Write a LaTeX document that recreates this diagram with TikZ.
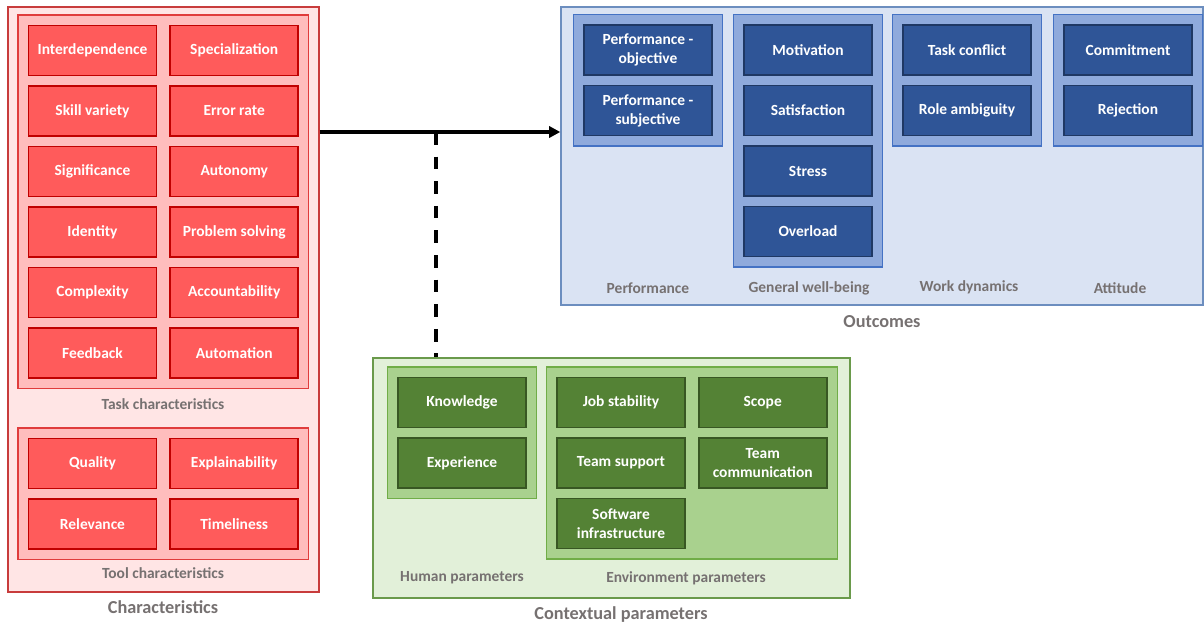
\documentclass[tikz,border=0pt]{standalone}
\usepackage{fontspec}
\setmainfont{Carlito}
\usetikzlibrary{positioning, backgrounds, fit, arrows.meta}

\definecolor{redFill}{HTML}{FF5B5B}
\definecolor{redDraw}{HTML}{C00000}
\definecolor{redGroupFill}{HTML}{FFBDBD}
\definecolor{redGroupDraw}{HTML}{E03C3C}
\definecolor{redOuterFill}{HTML}{FFE5E5}
\definecolor{redOuterDraw}{HTML}{C83C3C}
\definecolor{blueFill}{HTML}{2F5597}
\definecolor{blueDraw}{HTML}{1F3864}
\definecolor{blueGroupFill}{HTML}{8FAADC}
\definecolor{blueGroupDraw}{HTML}{4472C4}
\definecolor{blueOuterFill}{HTML}{DAE3F3}
\definecolor{blueOuterDraw}{HTML}{6C8EBF}
\definecolor{greenFill}{HTML}{548235}
\definecolor{greenDraw}{HTML}{385723}
\definecolor{greenGroupFill}{HTML}{A9D18E}
\definecolor{greenGroupDraw}{HTML}{70AD47}
\definecolor{greenOuterFill}{HTML}{E2F0D9}
\definecolor{greenOuterDraw}{HTML}{6A9A4B}
\definecolor{labelGray}{HTML}{767171}

\begin{document}
\begin{tikzpicture}[
    x=0.025cm, y=-0.025cm,
    node distance=0.22cm and 0.3cm,
    block/.style={rectangle, draw, line width=1.2pt, minimum width=3.2cm, minimum height=1.25cm, text=white, align=center, font=\bfseries\fontsize{11}{13.5}\selectfont},
    redblock/.style={block, fill=redFill, draw=redDraw},
    blueblock/.style={block, fill=blueFill, draw=blueDraw},
    greenblock/.style={block, fill=greenFill, draw=greenDraw},
    group/.style={rectangle, draw, line width=0.8pt, inner sep=0.24cm},
    outer/.style={rectangle, draw, line width=1pt, inner sep=0pt},
    sublabel/.style={text=labelGray, font=\bfseries\fontsize{11}{13}\selectfont},
    mainlabel/.style={text=labelGray, font=\bfseries\fontsize{13}{15}\selectfont},
]
\useasboundingbox (0,0) rectangle (1204,626);

% Nodes: task characteristics
\node [redblock] at (92.5,50.5) (interdep) {Interdependence};
\node [redblock, right=of interdep] (special) {Specialization};
\node [redblock, below=of interdep] (skill) {Skill variety};
\node [redblock, below=of special] (error) {Error rate};
\node [redblock, below=of skill] (signif) {Significance};
\node [redblock, below=of error] (autonomy) {Autonomy};
\node [redblock, below=of signif] (identity) {Identity};
\node [redblock, below=of autonomy] (problem) {Problem solving};
\node [redblock, below=of identity] (complex) {Complexity};
\node [redblock, below=of problem] (account) {Accountability};
\node [redblock, below=of complex] (feedback) {Feedback};
\node [redblock, below=of account] (automation) {Automation};

% Nodes: tool characteristics
\node [redblock] at (92.5,463.5) (quality) {Quality};
\node [redblock, right=of quality] (explain) {Explainability};
\node [redblock, below=of quality] (relevance) {Relevance};
\node [redblock, below=of explain] (timely) {Timeliness};

% Nodes: outcomes
\node [blueblock] at (648,50) (perfobj) {Performance -\\objective};
\node [blueblock, below=of perfobj] (perfsubj) {Performance -\\subjective};
\node [blueblock] at (808,50) (motiv) {Motivation};
\node [blueblock, below=of motiv] (satisf) {Satisfaction};
\node [blueblock, below=of satisf] (stress) {Stress};
\node [blueblock, below=of stress] (overload) {Overload};
\node [blueblock] at (967,50) (taskconf) {Task conflict};
\node [blueblock, below=of taskconf] (roleamb) {Role ambiguity};
\node [blueblock] at (1128,50) (commit) {Commitment};
\node [blueblock, below=of commit] (reject) {Rejection};

% Nodes: contextual parameters
\node [greenblock] at (462,402.5) (knowledge) {Knowledge};
\node [greenblock, below=of knowledge] (experience) {Experience};
\node [greenblock] at (621,402.5) (jobstab) {Job stability};
\node [greenblock, right=of jobstab] (scope) {Scope};
\node [greenblock, below=of jobstab] (teamsup) {Team support};
\node [greenblock, below=of scope] (teamcom) {Team\\communication};
\node [greenblock, below=of teamsup] (software) {Software\\infrastructure};

% Labels
\node [sublabel] at (163,404) (tasklabel) {Task characteristics};
\node [sublabel] at (163,573) (toollabel) {Tool characteristics};
\node [mainlabel] at (163,607) (charlabel) {Characteristics};
\node [sublabel] at (648,288) (perflabel) {Performance};
\node [sublabel] at (809,288) (wblabel) {General well-being};
\node [sublabel] at (969,287) (worklabel) {Work dynamics};
\node [sublabel] at (1120,288) (attlabel) {Attitude};
\node [mainlabel] at (882,322) (outlabel) {Outcomes};
\node [sublabel] at (462,578) (humanlabel) {Human parameters};
\node [sublabel] at (686,578) (envlabel) {Environment parameters};
\node [mainlabel] at (621,615) (ctxlabel) {Contextual parameters};

% Background
\begin{scope}[on background layer]
    \node [outer, fill=redOuterFill, draw=redOuterDraw, fit={(8,7) (319,592)}] (chars) {};
    \node [outer, fill=blueOuterFill, draw=blueOuterDraw, fit={(561,7) (1203,305)}] (outcomes) {};
    \node [outer, fill=greenOuterFill, draw=greenOuterDraw, fit={(373,358) (850,598)}] (context) {};
    \node [group, fill=redGroupFill, draw=redGroupDraw, fit=(interdep) (automation)] (taskgroup) {};
    \node [group, fill=redGroupFill, draw=redGroupDraw, fit=(quality) (timely)] (toolgroup) {};
    \node [group, fill=blueGroupFill, draw=blueGroupDraw, fit=(perfobj) (perfsubj)] (perfgroup) {};
    \node [group, fill=blueGroupFill, draw=blueGroupDraw, fit=(motiv) (overload)] (wbgroup) {};
    \node [group, fill=blueGroupFill, draw=blueGroupDraw, fit=(taskconf) (roleamb)] (workgroup) {};
    \node [group, fill=blueGroupFill, draw=blueGroupDraw, fit=(commit) (reject)] (attgroup) {};
    \node [group, fill=greenGroupFill, draw=greenGroupDraw, fit=(knowledge) (experience)] (humangroup) {};
    \node [group, fill=greenGroupFill, draw=greenGroupDraw, fit=(jobstab) (scope) (software)] (envgroup) {};
\end{scope}

% Lines
\coordinate (split) at (436,132);
\draw [-{Triangle[length=0.28cm, width=0.28cm]}, line width=2.2pt] (split -| chars.east) -- (split -| outcomes.west);
\draw [line width=2.6pt, dash pattern=on 9pt off 8.5pt] (split) -- (split |- context.north);

\end{tikzpicture}
\end{document}
